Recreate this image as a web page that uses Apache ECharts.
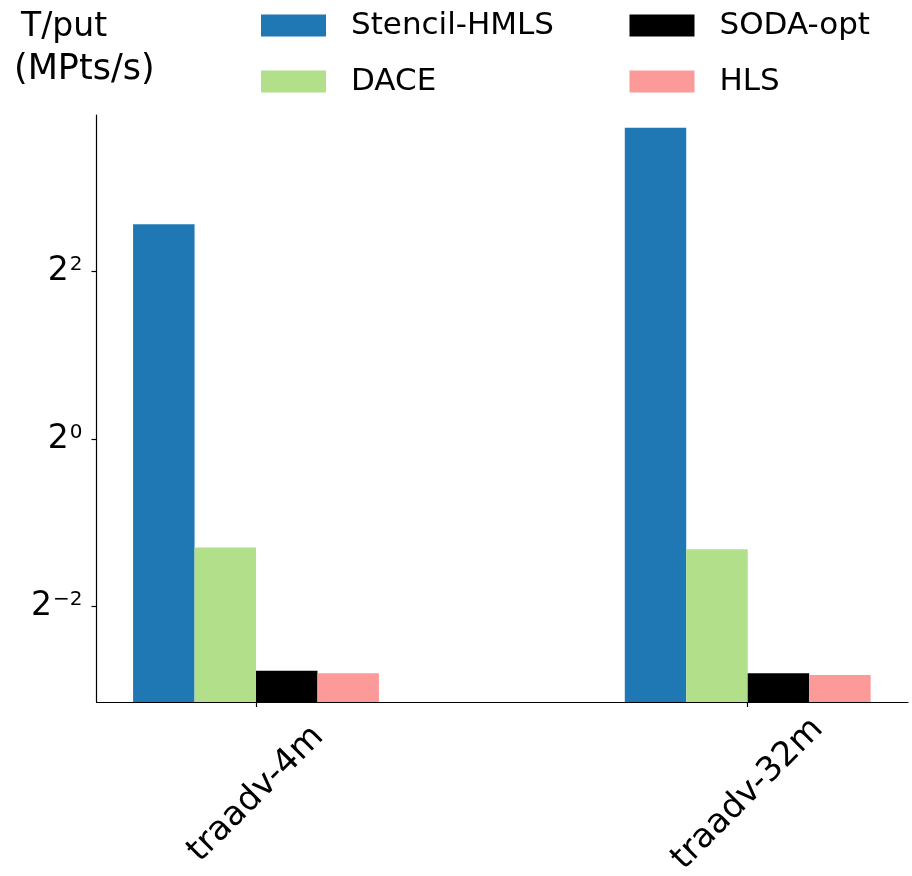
<!DOCTYPE html>
<html>
<head>
<meta charset="utf-8">
<script src="https://cdn.jsdelivr.net/npm/echarts@6/dist/echarts.min.js"></script>
<style>
html,body{margin:0;padding:0;background:#fff;}
#chart{width:912px;height:876px;}
</style>
</head>
<body>
<div id="chart"></div>
<script>
// ---- data ----
var categories = ['traadv-4m', 'traadv-32m'];
var seriesNames = ['Stencil-HMLS', 'DACE', 'SODA-opt', 'HLS'];
var stencilHMLS = [5.92, 13.17];
var dace = [0.408, 0.402];
var sodaOpt = [0.147, 0.144];
var hls = [0.144, 0.142];
var yTickExps = [-2, 0, 2];           // tick labels 2^-2, 2^0, 2^2
var yExpRange = [-3.138, 3.871];      // log2 axis limits
var xRange = [-0.3244, 1.326];        // category-index axis limits
var colors = ['#1f77b4', '#b2df8a', '#000000', '#fb9a99'];

var FONT = 'DejaVu Sans';
var yMin = Math.pow(2, yExpRange[0]);
var yMax = Math.pow(2, yExpRange[1]);
var yTickValues = yTickExps.map(function (e) { return Math.pow(2, e); });
var xTickValues = categories.map(function (c, i) { return i; });

var chart = echarts.init(document.getElementById('chart'), null, {renderer: 'canvas'});

var values = [stencilHMLS, dace, sodaOpt, hls];
var series = seriesNames.map(function (name, i) {
  return {
    name: name,
    type: 'bar',
    data: values[i].map(function (v, j) { return [j, v]; }),
    barWidth: '12.5%',
    barGap: '0%',
    itemStyle: {color: colors[i]},
    emphasis: {disabled: true},
    animation: false
  };
});

var option = {
  animation: false,
  textStyle: {fontFamily: FONT},
  title: [
    {text: 'T/put', left: 21, top: 10.5, padding: 0,
     textStyle: {fontFamily: FONT, fontSize: 33, fontWeight: 'normal', color: '#000', lineHeight: 33}},
    {text: '(MPts/s)', left: 14, top: 52, padding: 0,
     textStyle: {fontFamily: FONT, fontSize: 35, fontWeight: 'normal', color: '#000', lineHeight: 35}}
  ],
  legend: [
    {data: ['Stencil-HMLS', 'DACE'], orient: 'vertical', left: 261, top: 10, padding: 0,
     itemWidth: 65, itemHeight: 22, itemGap: 25, icon: 'rect', selectedMode: false,
     textStyle: {fontFamily: FONT, fontSize: 31, color: '#000', lineHeight: 22, padding: [0, 0, 0, 20]}},
    {data: ['SODA-opt', 'HLS'], orient: 'vertical', left: 629.5, top: 10, padding: 0,
     itemWidth: 65, itemHeight: 22, itemGap: 25, icon: 'rect', selectedMode: false,
     textStyle: {fontFamily: FONT, fontSize: 31, color: '#000', lineHeight: 22, padding: [0, 0, 0, 20]}}
  ],
  grid: {left: 96.5, width: 811.5, top: 115, height: 587, containLabel: false, outerBoundsMode: 'none'},
  xAxis: {
    type: 'value', min: xRange[0], max: xRange[1],
    axisLine: {show: true, onZero: false, lineStyle: {color: '#000', width: 1.2}},
    axisTick: {show: true, length: 5, customValues: xTickValues, lineStyle: {color: '#000', width: 1.2}},
    axisLabel: {show: true, customValues: xTickValues, rotate: 45, align: 'center', verticalAlign: 'middle',
                margin: 92, fontFamily: FONT, fontSize: 34, color: '#000',
                formatter: function (v) { return categories[Math.round(v)]; }},
    splitLine: {show: false}
  },
  yAxis: {
    type: 'log', logBase: 2, min: yMin, max: yMax, startValue: yMin,
    axisLine: {show: true, onZero: false, lineStyle: {color: '#000', width: 1.2}},
    axisTick: {show: true, length: 5, customValues: yTickValues, lineStyle: {color: '#000', width: 1.2}},
    axisLabel: {
      show: true, margin: 14, customValues: yTickValues,
      formatter: function (v) {
        var e = Math.round(Math.log(v) / Math.log(2));
        var s = String(e).replace('-', '\u2212');
        return '{b|2}{s|' + s + '}';
      },
      rich: {
        b: {fontFamily: FONT, fontSize: 33, color: '#000', lineHeight: 33},
        s: {fontFamily: FONT, fontSize: 20, color: '#000', lineHeight: 28, verticalAlign: 'top', padding: [0, 0, 0, 1]}
      }
    },
    splitLine: {show: false}, minorTick: {show: false}
  },
  series: series
};
chart.setOption(option);
</script>
</body>
</html>
